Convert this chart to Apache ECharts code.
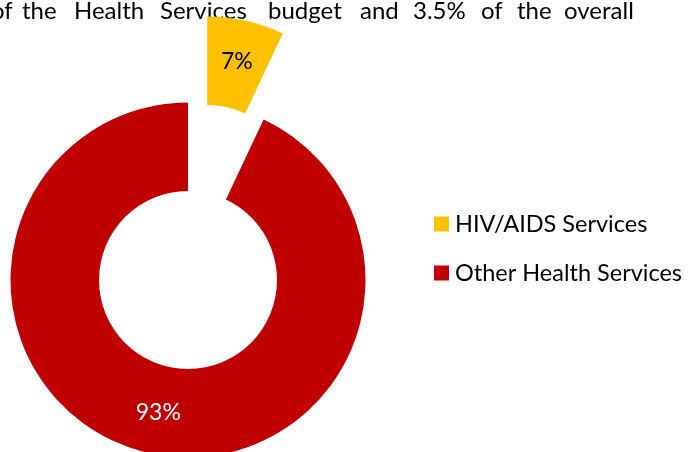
<!DOCTYPE html>
<html>
<head>
<meta charset="utf-8">
<script src="https://cdn.jsdelivr.net/npm/echarts@6/dist/echarts.min.js"></script>
<style>
  html, body { margin: 0; padding: 0; background: #fff; }
  #chart { width: 692px; height: 452px; }
</style>
</head>
<body>
<div id="chart"></div>
<script>
// Health budget split
const categories = ['HIV/AIDS Services', 'Other Health Services'];
const shares = [7, 93];
const colors = ['#FFC000', '#C00000'];

// Running sentence above the chart (justified line of body text)
const headingWords = ['of', 'the', 'Health', 'Services', 'budget', 'and', '3.5%', 'of', 'the', 'overall'];
const headingX = [-9, 22, 74, 160, 268, 360, 413, 481, 517, 564];

const chart = echarts.init(document.getElementById('chart'), null, { renderer: 'canvas' });

const headingFont = '24px Lato';
const graphics = headingWords.map((w, i) => ({
  type: 'text',
  x: headingX[i],
  y: 23,
  style: {
    text: w,
    font: headingFont,
    fill: '#000',
    align: 'left',
    verticalAlign: 'bottom'
  },
  silent: true
}));

chart.setOption({
  animation: false,
  backgroundColor: '#ffffff',
  graphic: graphics,
  legend: {
    orient: 'vertical',
    left: 434,
    top: 212,
    padding: 0,
    icon: 'rect',
    itemWidth: 15,
    itemHeight: 15,
    itemGap: 25,
    selectedMode: false,
    textStyle: {
      fontFamily: 'Lato',
      fontSize: 23.5,
      color: '#000',
      padding: [0, 0, 0, 1]
    },
    data: categories
  },
  series: [{
    type: 'pie',
    center: [188, 280],
    radius: [89, 177.5],
    startAngle: 90,
    clockwise: true,
    selectedMode: 'multiple',
    selectedOffset: 88,
    avoidLabelOverlap: false,
    label: {
      show: true,
      position: 'inside',
      formatter: '{d}%',
      fontFamily: 'Lato',
      fontSize: 23
    },
    labelLine: { show: false },
    emphasis: { disabled: true },
    itemStyle: { borderWidth: 0 },
    data: categories.map((name, i) => ({
      name: name,
      value: shares[i],
      selected: i === 0,
      itemStyle: { color: colors[i] },
      label: { color: i === 0 ? '#000' : '#fff' }
    }))
  }]
});
</script>
</body>
</html>
